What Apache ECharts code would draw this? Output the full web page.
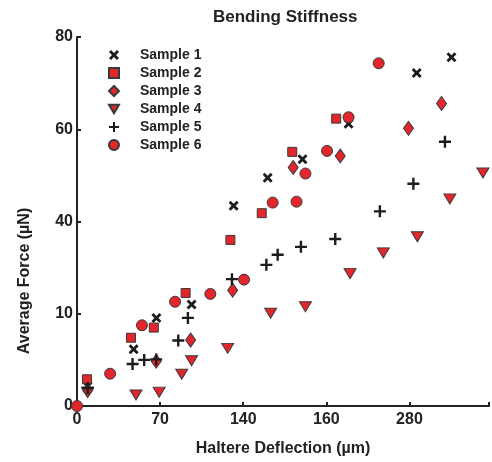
<!DOCTYPE html>
<html><head><meta charset="utf-8">
<script src="https://cdn.jsdelivr.net/npm/echarts@6/dist/echarts.min.js"></script>
<style>html,body{margin:0;padding:0;background:#fff}#c{width:492px;height:462px}</style>
</head><body><div id="c"></div><script>
const chartTitle = 'Bending Stiffness';
const xAxisName = 'Haltere Deflection (µm)';
const yAxisName = 'Average Force (µN)';
const xTickLabels = ['0', '70', '140', '160', '280'];
const yTickLabels = ['0', '10', '40', '60', '80'];
const sampleNames = ['Sample 1', 'Sample 2', 'Sample 3', 'Sample 4', 'Sample 5', 'Sample 6'];

const sample1 = [[9,4.3],[47.7,12.3],[66.9,19.1],[96.5,22.0],[131.9,43.4],[160.6,49.5],[189.9,53.5],[228.7,61.2],[286.1,72.2],[315.4,75.6]];
const sample2 = [[8.4,5.8],[45.5,14.8],[64.7,17.0],[91.5,24.5],[129.2,36.0],[155.6,41.8],[181.3,55.1],[218.3,62.3]];
const sample3 = [[9,3.4],[66.7,9.7],[95.7,14.3],[131.1,25.1],[182.1,51.7],[221.7,54.2],[279.2,60.2],[307.0,65.6]];
const sample4 = [[9,3.0],[49.7,2.4],[69.2,3.0],[88.2,6.9],[96.5,9.8],[126.9,12.5],[163.1,20.1],[192.4,21.5],[230.0,28.7],[258.0,33.2],[286.7,36.7],[314.0,44.9],[341.9,50.5]];
const sample5 = [[9,3.9],[46.8,9.1],[56.6,10.0],[66.7,10.1],[85.3,14.2],[93.4,19.1],[130.5,27.5],[159.5,30.6],[169.0,32.8],[188.6,34.5],[217.5,36.2],[255.1,42.2],[283.3,48.2],[309.9,57.3]];
const sample6 = [[0,0],[27.9,7.0],[54.7,17.5],[82.6,22.6],[112.3,24.3],[140.7,27.4],[164.8,44.1],[184.9,44.3],[192.4,50.4],[210.6,55.3],[228.7,62.6],[254.1,74.3]];

const sampleData = [sample1, sample2, sample3, sample4, sample5, sample6];

const RED = '#e3262b';
const EDGE = '#3a3a3a';
const BLACK = '#1c1c1c';
const FONT = "'Liberation Sans', Arial, sans-serif";

const symbolDefs = [
  {symbol: 'path://M0,2 L2,0 L5,3 L8,0 L10,2 L7,5 L10,8 L8,10 L5,7 L2,10 L0,8 L3,5 Z', size: 10, fill: BLACK, stroke: null},
  {symbol: 'rect', size: 9, fill: RED, stroke: EDGE},
  {symbol: 'diamond', size: [10, 14], fill: RED, stroke: EDGE},
  {symbol: 'path://M0,0 L10,0 L5,8.66 Z', size: [12, 10], fill: RED, stroke: EDGE},
  {symbol: 'path://M4,0 L6,0 L6,4 L10,4 L10,6 L6,6 L6,10 L4,10 L4,6 L0,6 L0,4 L4,4 Z', size: 12, fill: BLACK, stroke: null},
  {symbol: 'circle', size: 11, fill: RED, stroke: EDGE}
];

const series = sampleNames.map((name, i) => ({
  name: name,
  type: 'scatter',
  data: sampleData[i],
  symbol: symbolDefs[i].symbol,
  symbolSize: symbolDefs[i].size,
  itemStyle: {
    color: symbolDefs[i].fill,
    borderColor: symbolDefs[i].stroke || symbolDefs[i].fill,
    borderWidth: symbolDefs[i].stroke ? 1 : 0,
    opacity: 1
  },
  emphasis: {disabled: true},
  z: 2
}));

const chart = echarts.init(document.getElementById('c'), null, {renderer: 'canvas'});
chart.setOption({
  animation: false,
  backgroundColor: '#fff',
  grid: {left: 77, right: 0, top: 37, bottom: 54, containLabel: false},
  title: {
    text: chartTitle,
    left: 213, top: 9, padding: 0,
    textStyle: {fontFamily: FONT, fontWeight: 'bold', fontSize: 17, color: '#222'}
  },
  legend: {
    orient: 'vertical',
    left: 108, top: 48, padding: 0,
    itemWidth: 10, itemHeight: 10, itemGap: 4,
    textStyle: {fontFamily: FONT, fontWeight: 'bold', fontSize: 14, color: '#222', padding: [0, 0, 0, 16]},
    data: sampleNames,
    selectedMode: false
  },
  xAxis: {
    type: 'value', min: 0, max: 347, interval: 70,
    name: xAxisName, nameLocation: 'middle', nameGap: 35,
    nameTextStyle: {fontFamily: FONT, fontWeight: 'bold', fontSize: 16, color: '#222'},
    axisLine: {show: true, onZero: false, lineStyle: {color: '#222', width: 2}},
    axisTick: {show: true, inside: true, length: 4, lineStyle: {color: '#222', width: 2}},
    axisLabel: {
      margin: 6, fontFamily: FONT, fontWeight: 'bold', fontSize: 16, color: '#222',
      formatter: v => { const k = Math.round(v / 70); return (Math.abs(v - k * 70) < 1e-6 && k < xTickLabels.length) ? xTickLabels[k] : ''; }
    },
    splitLine: {show: false}
  },
  yAxis: {
    type: 'value', min: 0, max: 80, interval: 20,
    axisLine: {show: true, onZero: false, lineStyle: {color: '#222', width: 2}},
    axisTick: {show: true, inside: true, length: 4, lineStyle: {color: '#222', width: 2}},
    axisLabel: {
      margin: 4, fontFamily: FONT, fontWeight: 'bold', fontSize: 16, color: '#222',
      formatter: v => { const k = Math.round(v / 20); return (Math.abs(v - k * 20) < 1e-6 && k < yTickLabels.length) ? yTickLabels[k] : ''; }
    },
    splitLine: {show: false}
  },
  graphic: [{
    type: 'text', x: 25, y: 281, rotation: Math.PI / 2,
    style: {text: yAxisName, font: "bold 16px " + FONT, fill: '#222', align: 'center', verticalAlign: 'middle'}
  }],
  series: series
});
</script></body></html>
